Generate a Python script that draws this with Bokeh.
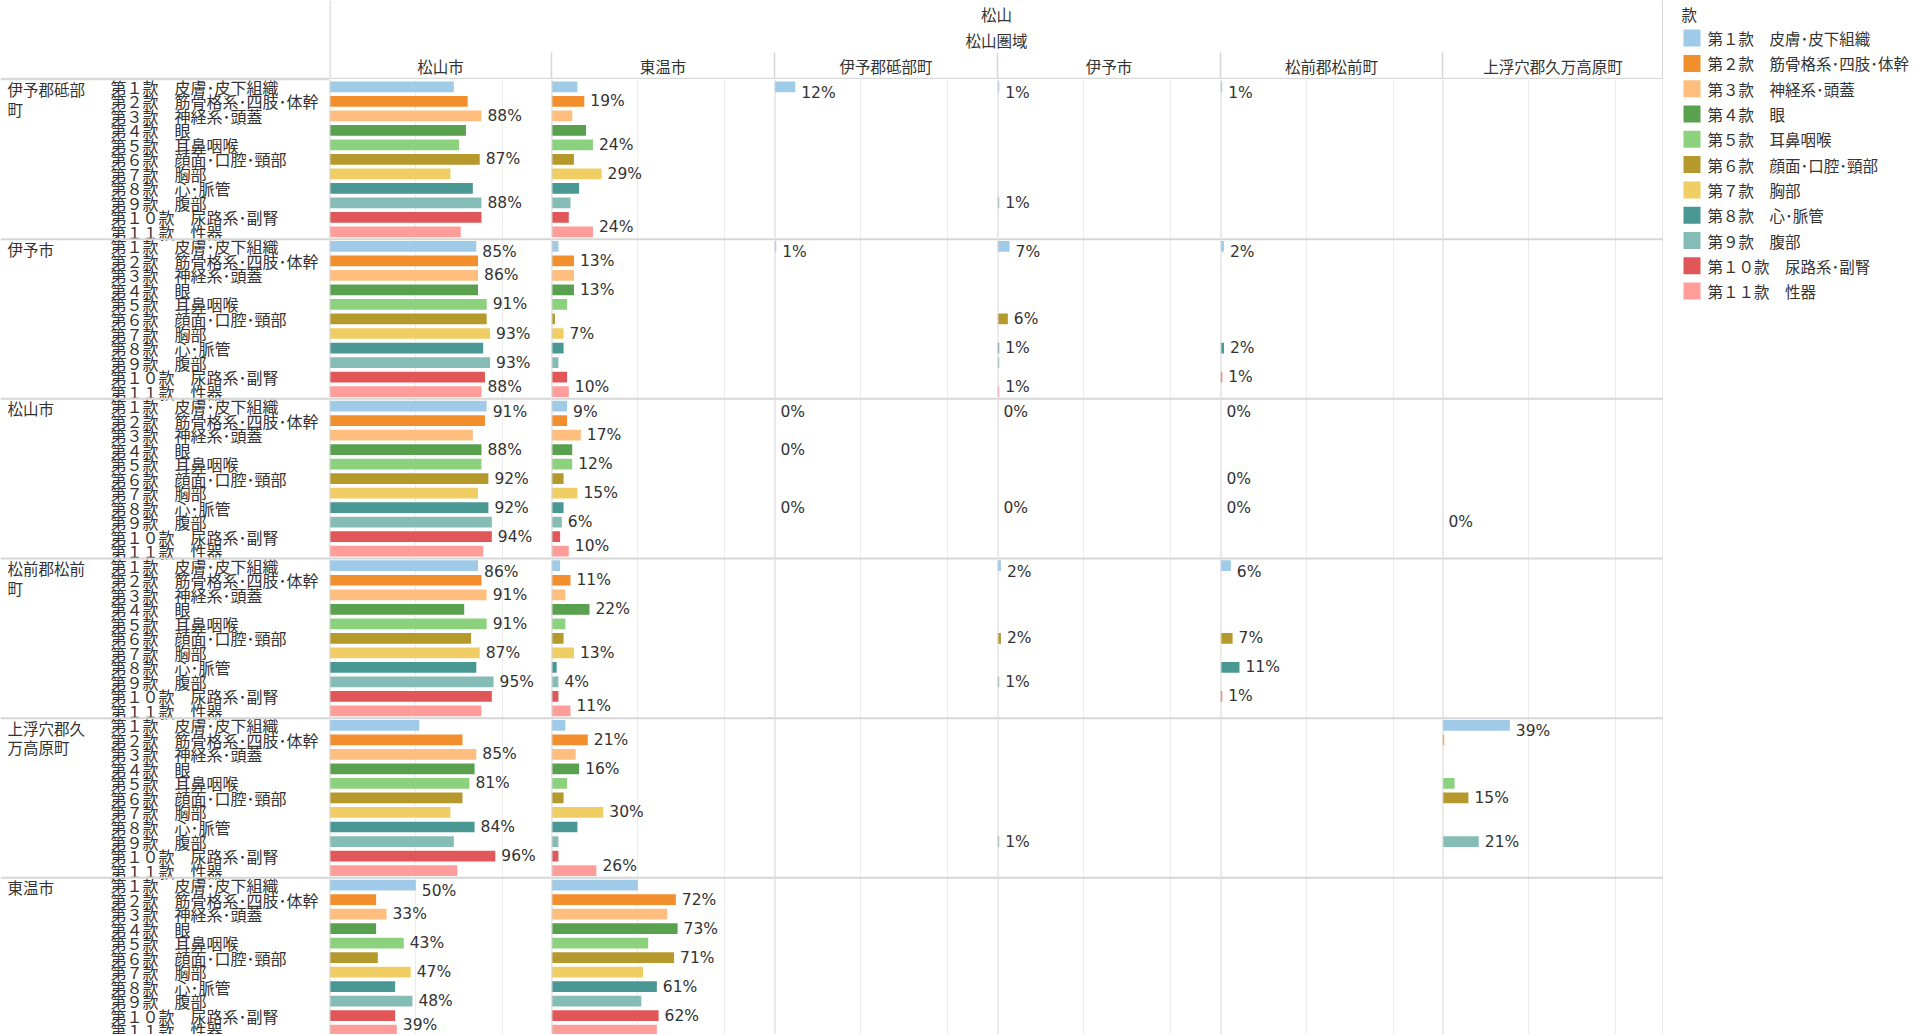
from bokeh.plotting import figure
from bokeh.models import Range1d, Span, FixedTicker, ColumnDataSource
from bokeh.layouts import row, column
from bokeh.embed import file_html
from bokeh.resources import INLINE
from bokeh.core.properties import value

N = None

# ---------------- data ----------------
region_top = "松山"
region_sub = "松山圏域"
legend_title = "款"

origins = ["伊予郡砥部町", "伊予市", "松山市", "松前郡松前町", "上浮穴郡久万高原町", "東温市"]
destinations = ["松山市", "東温市", "伊予郡砥部町", "伊予市", "松前郡松前町", "上浮穴郡久万高原町"]

categories = [
    "第１款　皮膚･皮下組織",
    "第２款　筋骨格系･四肢･体幹",
    "第３款　神経系･頭蓋",
    "第４款　眼",
    "第５款　耳鼻咽喉",
    "第６款　顔面･口腔･頸部",
    "第７款　胸部",
    "第８款　心･脈管",
    "第９款　腹部",
    "第１０款　尿路系･副腎",
    "第１１款　性器",
]
colors = ["#A0CBE8", "#F28E2B", "#FFBE7D", "#59A14F", "#8CD17D", "#B6992D",
          "#F1CE63", "#499894", "#86BCB6", "#E15759", "#FF9D9A"]

# share of patients (rows = origins, inner = categories) per destination
to_matsuyama_shi = [
    [0.72, 0.80, 0.88, 0.79, 0.75, 0.87, 0.70, 0.83, 0.88, 0.88, 0.76],
    [0.85, 0.86, 0.86, 0.86, 0.91, 0.91, 0.93, 0.89, 0.93, 0.90, 0.88],
    [0.91, 0.90, 0.83, 0.88, 0.88, 0.92, 0.86, 0.92, 0.94, 0.94, 0.89],
    [0.86, 0.88, 0.91, 0.78, 0.91, 0.82, 0.87, 0.85, 0.95, 0.94, 0.88],
    [0.52, 0.77, 0.85, 0.84, 0.81, 0.77, 0.70, 0.84, 0.72, 0.96, 0.74],
    [0.50, 0.27, 0.33, 0.27, 0.43, 0.28, 0.47, 0.38, 0.48, 0.38, 0.39],
]
lbl_matsuyama_shi = [
    [0, 0, 1, 0, 0, 1, 0, 0, 1, 0, 0],
    [1, 0, 1, 0, 1, 0, 1, 0, 1, 0, 1],
    [1, 0, 0, 1, 0, 1, 0, 1, 0, 1, 0],
    [1, 0, 1, 0, 1, 0, 1, 0, 1, 0, 0],
    [0, 0, 1, 0, 1, 0, 0, 1, 0, 1, 0],
    [1, 0, 1, 0, 1, 0, 1, 0, 1, 0, 1],
]

to_toon_shi = [
    [0.15, 0.19, 0.12, 0.20, 0.24, 0.13, 0.29, 0.16, 0.11, 0.10, 0.24],
    [0.04, 0.13, 0.13, 0.13, 0.09, 0.02, 0.07, 0.07, 0.04, 0.09, 0.10],
    [0.09, 0.09, 0.17, 0.12, 0.12, 0.07, 0.15, 0.07, 0.06, 0.05, 0.10],
    [0.05, 0.11, 0.08, 0.22, 0.08, 0.07, 0.13, 0.03, 0.04, 0.04, 0.11],
    [0.08, 0.21, 0.14, 0.16, 0.09, 0.07, 0.30, 0.15, 0.04, 0.04, 0.26],
    [0.50, 0.72, 0.67, 0.73, 0.56, 0.71, 0.53, 0.61, 0.52, 0.62, 0.61],
]
lbl_toon_shi = [
    [0, 1, 0, 0, 1, 0, 1, 0, 0, 0, 1],
    [0, 1, 0, 1, 0, 0, 1, 0, 0, 0, 1],
    [1, 0, 1, 0, 1, 0, 1, 0, 1, 0, 1],
    [0, 1, 0, 1, 0, 0, 1, 0, 1, 0, 1],
    [0, 1, 0, 1, 0, 0, 1, 0, 0, 0, 1],
    [0, 1, 0, 1, 0, 1, 0, 1, 0, 1, 0],
]

to_tobe_cho = [
    [0.12, N, N, N, N, N, N, N, N, N, N],
    [0.01, N, N, N, N, N, N, N, N, N, N],
    [0.00, N, N, 0.00, N, N, N, 0.00, N, N, N],
    [N, N, N, N, N, N, N, N, N, N, N],
    [N, N, N, N, N, N, N, N, N, N, N],
    [N, N, N, N, N, N, N, N, N, N, N],
]
lbl_tobe_cho = [
    [1, 0, 0, 0, 0, 0, 0, 0, 0, 0, 0],
    [1, 0, 0, 0, 0, 0, 0, 0, 0, 0, 0],
    [1, 0, 0, 1, 0, 0, 0, 1, 0, 0, 0],
    [0, 0, 0, 0, 0, 0, 0, 0, 0, 0, 0],
    [0, 0, 0, 0, 0, 0, 0, 0, 0, 0, 0],
    [0, 0, 0, 0, 0, 0, 0, 0, 0, 0, 0],
]

to_iyo_shi = [
    [0.01, N, N, N, N, N, N, N, 0.01, N, N],
    [0.07, N, N, N, N, 0.06, N, 0.01, 0.01, N, 0.01],
    [0.00, N, N, N, N, N, N, 0.00, N, N, N],
    [0.02, N, N, N, N, 0.02, N, N, 0.01, N, N],
    [N, N, N, N, N, N, N, N, 0.01, N, N],
    [N, N, N, N, N, N, N, N, N, N, N],
]
lbl_iyo_shi = [
    [1, 0, 0, 0, 0, 0, 0, 0, 1, 0, 0],
    [1, 0, 0, 0, 0, 1, 0, 1, 0, 0, 1],
    [1, 0, 0, 0, 0, 0, 0, 1, 0, 0, 0],
    [1, 0, 0, 0, 0, 1, 0, 0, 1, 0, 0],
    [0, 0, 0, 0, 0, 0, 0, 0, 1, 0, 0],
    [0, 0, 0, 0, 0, 0, 0, 0, 0, 0, 0],
]

to_masaki_cho = [
    [0.01, N, N, N, N, N, N, N, N, N, N],
    [0.02, N, N, N, N, N, N, 0.02, N, 0.01, N],
    [0.00, N, N, N, N, 0.00, N, 0.00, N, N, N],
    [0.06, N, N, N, N, 0.07, N, 0.11, N, 0.01, N],
    [N, N, N, N, N, N, N, N, N, N, N],
    [N, N, N, N, N, N, N, N, N, N, N],
]
lbl_masaki_cho = [
    [1, 0, 0, 0, 0, 0, 0, 0, 0, 0, 0],
    [1, 0, 0, 0, 0, 0, 0, 1, 0, 1, 0],
    [1, 0, 0, 0, 0, 1, 0, 1, 0, 0, 0],
    [1, 0, 0, 0, 0, 1, 0, 1, 0, 1, 0],
    [0, 0, 0, 0, 0, 0, 0, 0, 0, 0, 0],
    [0, 0, 0, 0, 0, 0, 0, 0, 0, 0, 0],
]

to_kumakogen_cho = [
    [N, N, N, N, N, N, N, N, N, N, N],
    [N, N, N, N, N, N, N, N, N, N, N],
    [N, N, N, N, N, N, N, N, 0.00, N, N],
    [N, N, N, N, N, N, N, N, N, N, N],
    [0.39, 0.01, N, N, 0.07, 0.15, N, N, 0.21, N, N],
    [N, N, N, N, N, N, N, N, N, N, N],
]
lbl_kumakogen_cho = [
    [0, 0, 0, 0, 0, 0, 0, 0, 0, 0, 0],
    [0, 0, 0, 0, 0, 0, 0, 0, 0, 0, 0],
    [0, 0, 0, 0, 0, 0, 0, 0, 1, 0, 0],
    [0, 0, 0, 0, 0, 0, 0, 0, 0, 0, 0],
    [1, 0, 0, 0, 0, 1, 0, 0, 1, 0, 0],
    [0, 0, 0, 0, 0, 0, 0, 0, 0, 0, 0],
]

values_by_dest = [to_matsuyama_shi, to_toon_shi, to_tobe_cho, to_iyo_shi, to_masaki_cho, to_kumakogen_cho]
labels_by_dest = [lbl_matsuyama_shi, lbl_toon_shi, lbl_tobe_cho, lbl_iyo_shi, lbl_masaki_cho, lbl_kumakogen_cho]

# ---------------- style / layout ----------------
CJK = "Noto Sans CJK JP"
LATIN = "DejaVu Sans"
TXT = "#333333"
GRID_C = "#ececec"
SEP_C = "#d6d6d6"

PX_PER_UNIT = 172.7
ROW_PX = 159.66
NCAT = len(categories)
BAND_PX = ROW_PX / NCAT
TOTAL_H = 1034
HEADER_H = 79
PANEL_H = TOTAL_H - HEADER_H
LEFT_W = 329
COL_W = [222, 223, 223, 223, 222, 221]
LEG_W = 253
NROW = len(origins)


def base_fig(w, h, xr, yr):
    p = figure(width=w, height=h, x_range=xr, y_range=yr, output_backend="svg",
               toolbar_location=None, tools="", x_axis_location=None, y_axis_location=None,
               min_border=0, outline_line_color=None)
    p.xgrid.visible = False
    p.ygrid.visible = False
    return p


def add_row_seps(p):
    for r in range(1, NROW):
        p.add_layout(Span(location=r * NCAT, dimension="width", line_color=SEP_C, line_width=2))


def wrap(s, n=5):
    return "\n".join(s[i:i + n] for i in range(0, len(s), n))


# ---- left label column (full height, includes header area) ----
pl = base_fig(LEFT_W, TOTAL_H, Range1d(0, LEFT_W),
              Range1d(PANEL_H / BAND_PX, -HEADER_H / BAND_PX))
pl.text(x=[7] * NROW, y=[i * NCAT - 0.1 for i in range(NROW)], text=[wrap(o) for o in origins],
        text_baseline="top", text_line_height=0.9, text_font=value(CJK), text_font_size="15.5px",
        text_color=TXT)
pl.text(x=[110] * (NROW * NCAT), y=[i * NCAT + k + 0.5 for i in range(NROW) for k in range(NCAT)],
        text=categories * NROW, text_baseline="middle", y_offset=0, text_font=value(CJK),
        text_font_size="16px", text_color=TXT)
add_row_seps(pl)
pl.add_layout(Span(location=-0.03, dimension="width", line_color="#d9d9d9", line_width=2.5))

# ---- header over the panels ----
PW = sum(COL_W)
edges = [0]
for w in COL_W:
    edges.append(edges[-1] + w)
centers = [(a + b) / 2 for a, b in zip(edges[:-1], edges[1:])]

ph = base_fig(PW, HEADER_H, Range1d(0, PW), Range1d(HEADER_H, 0))
ph.text(x=[PW / 2], y=[13.6], text=[region_top], text_align="center", text_baseline="middle",
        text_font=value(CJK), text_font_size="15.5px", text_color=TXT)
ph.text(x=[PW / 2], y=[39.2], text=[region_sub], text_align="center", text_baseline="middle",
        text_font=value(CJK), text_font_size="15.5px", text_color=TXT)
ph.text(x=centers, y=[65.2] * len(centers), text=destinations, text_align="center",
        text_baseline="middle", text_font=value(CJK), text_font_size="15.5px", text_color=TXT)
inner = edges[1:-1]
ph.segment(x0=inner, y0=[52] * len(inner), x1=inner, y1=[HEADER_H] * len(inner),
           line_color=SEP_C, line_width=1.5)
ph.segment(x0=[0.5, PW - 0.75], y0=[0, 0], x1=[0.5, PW - 0.75], y1=[HEADER_H, HEADER_H],
           line_color=SEP_C, line_width=1.5)
ph.segment(x0=[0], y0=[HEADER_H - 0.5], x1=[PW], y1=[HEADER_H - 0.5], line_color="#d9d9d9",
           line_width=2.5)

# ---- panels ----
panels = []
for j, (dest, w) in enumerate(zip(destinations, COL_W)):
    xmax = w / PX_PER_UNIT
    p = base_fig(w, PANEL_H, Range1d(0, xmax), Range1d(PANEL_H / BAND_PX, 0))
    p.xgrid.visible = True
    p.xgrid.ticker = FixedTicker(ticks=[0.5, 1.0])
    p.xgrid.grid_line_color = GRID_C
    p.xgrid.grid_line_width = 1
    bars = dict(y=[], right=[], color=[])
    labs = dict(x=[], y=[], text=[], dy=[])
    for i in range(NROW):
        for k in range(NCAT):
            v = values_by_dest[j][i][k]
            if v is None:
                continue
            yc = i * NCAT + k + 0.5
            bars["y"].append(yc)
            bars["right"].append(v)
            bars["color"].append(colors[k])
            if labels_by_dest[j][i][k]:
                labs["x"].append(v)
                labs["y"].append(yc)
                labs["text"].append(f"{round(v * 100)}%")
                labs["dy"].append(6 if k == 0 else (-5 if k == NCAT - 1 else 0))
    p.hbar(y="y", left=0, right="right", height=0.74, fill_color="color", line_color=None,
           source=ColumnDataSource(bars))
    p.text(x="x", y="y", text="text", x_offset=6, y_offset="dy", text_baseline="middle",
           text_font=value(LATIN), text_font_size="15.5px", text_color=TXT,
           source=ColumnDataSource(labs))
    add_row_seps(p)
    p.add_layout(Span(location=0, dimension="height", line_color=SEP_C, line_width=2))
    if j == len(destinations) - 1:
        p.add_layout(Span(location=xmax, dimension="height", line_color=SEP_C, line_width=2))
    panels.append(p)

# ---- legend (drawn from the category / colour lists) ----
pg = base_fig(LEG_W, TOTAL_H, Range1d(0, LEG_W), Range1d(TOTAL_H, 0))
ITEM_H = 25.3
leg_y = [37.6 + i * ITEM_H for i in range(NCAT)]
pg.text(x=[18], y=[13.3], text=[legend_title], text_baseline="middle", text_font=value(CJK),
        text_font_size="15.5px", text_color=TXT)
pg.rect(x=[28.5] * NCAT, y=leg_y, width=17, height=17, fill_color=colors, line_color=None)
pg.text(x=[44] * NCAT, y=leg_y, text=categories, text_baseline="middle", text_font=value(CJK),
        text_font_size="15.5px", text_color=TXT)

layout = row(pl, column(ph, row(*panels)), pg)
open("out.html", "w").write(file_html(layout, INLINE))
